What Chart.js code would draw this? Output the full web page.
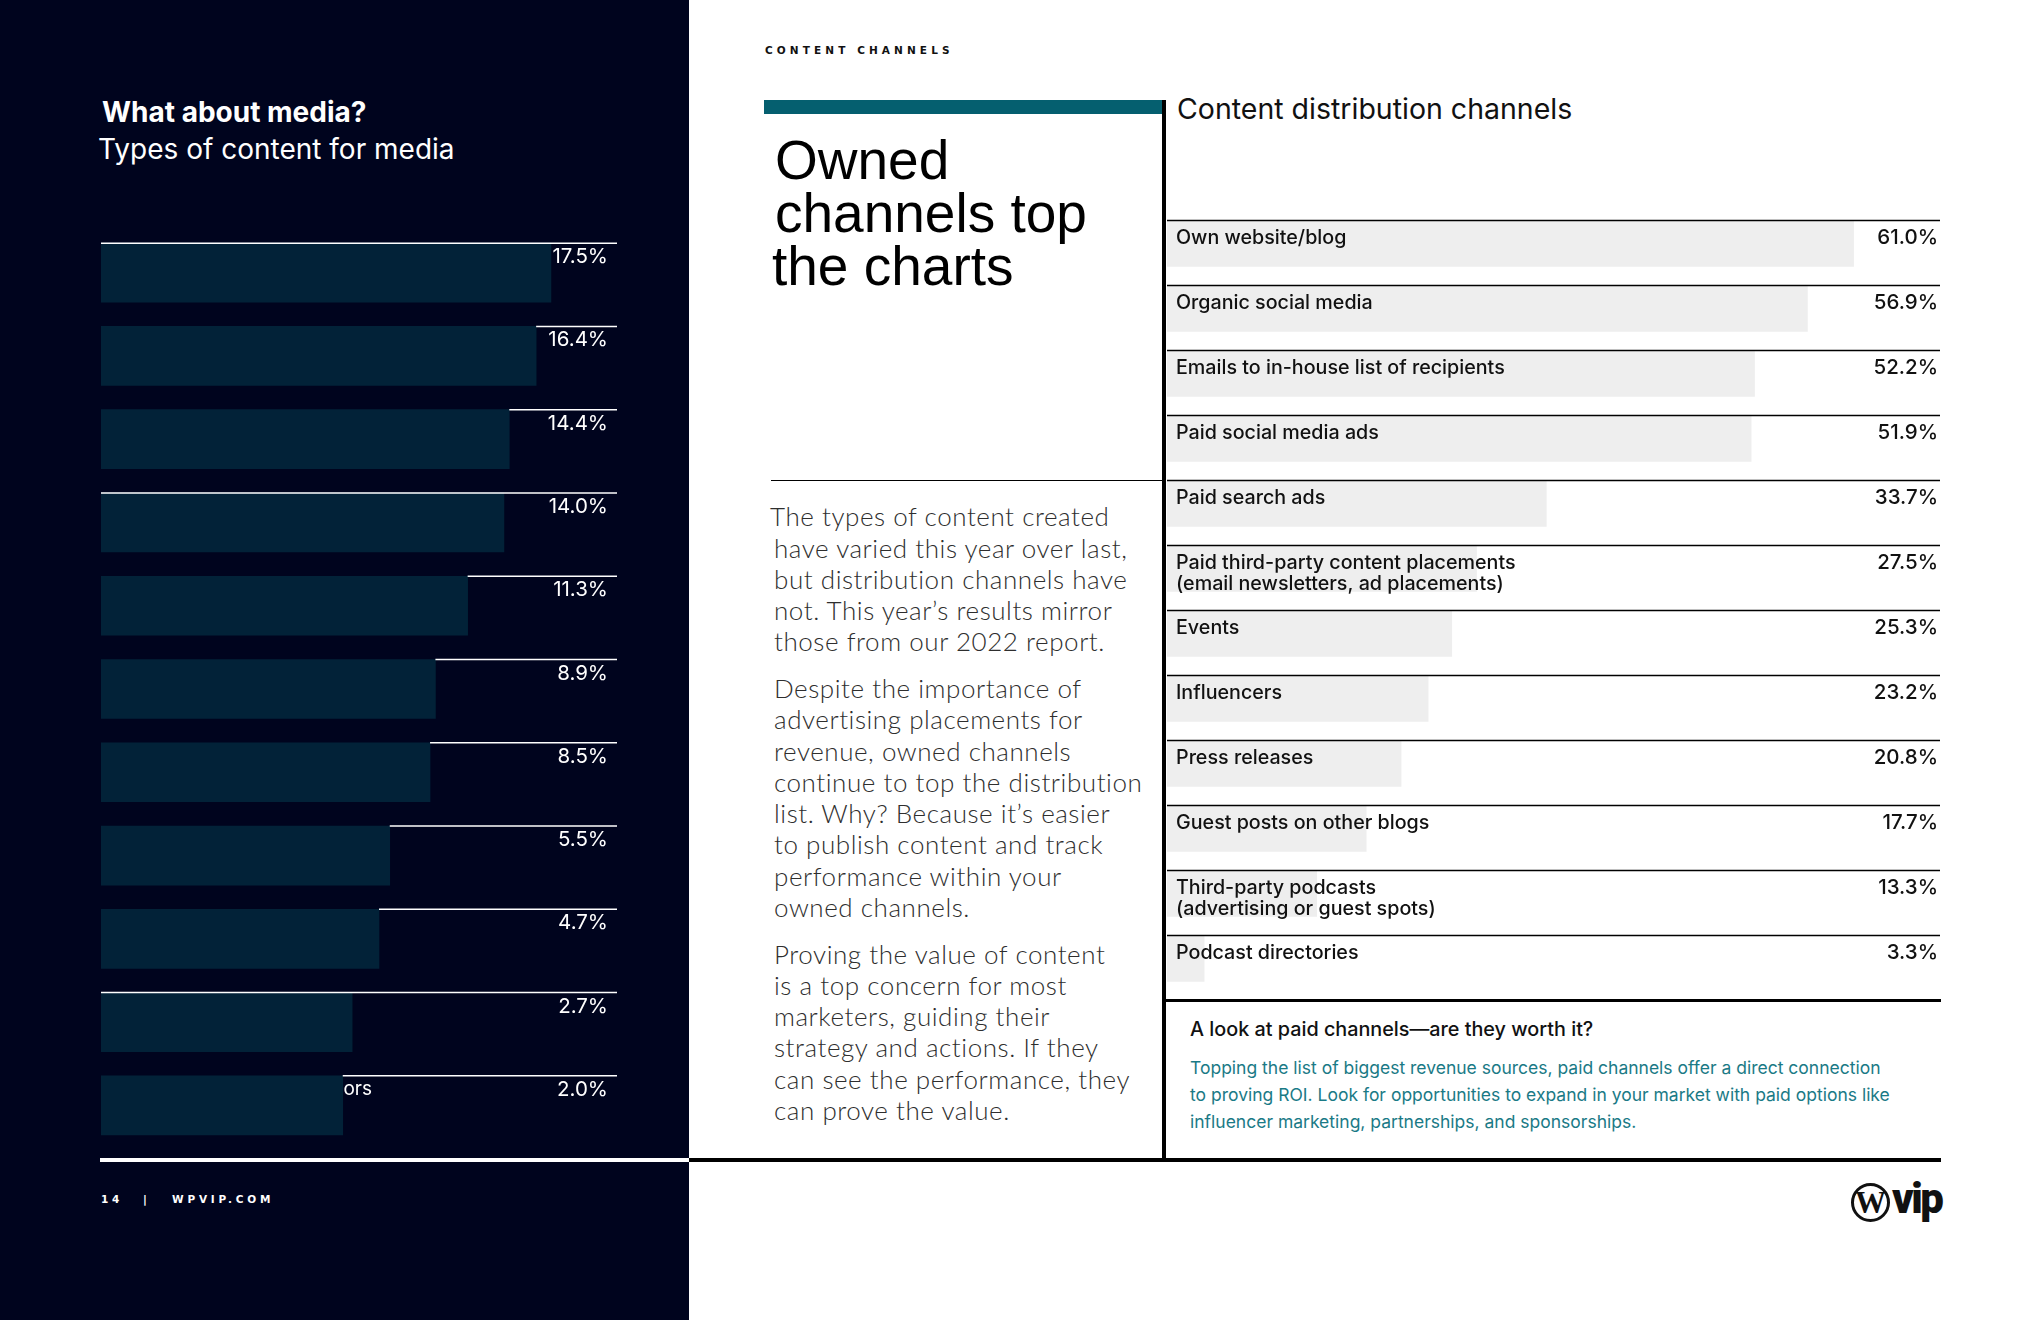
<!DOCTYPE html>
<html lang="en">
<head>
<meta charset="UTF-8">
<title>Content channels</title>
<script src="https://cdn.jsdelivr.net/npm/chart.js"></script>
<style>
	html, body { margin: 0; padding: 0; }
	body { width: 2040px; height: 1320px; position: relative; background: #fff; overflow: hidden; }
	.abs { position: absolute; white-space: nowrap; }
	#panel { left: 0; top: 0; width: 689px; height: 1320px; background: #00041e; }
	.para { font-family: Lato, sans-serif; font-weight: 300; font-size: 26px; line-height: 31.25px; letter-spacing: 0.55px; color: #2e2e2e; left: 774px; }
	.teal { font-family: Inter, sans-serif; font-size: 17.5px; line-height: 27px; color: #1a7a86; left: 1190px; top: 1054.1px; }
</style>
</head>
<body>
	<div id="panel" class="abs"></div>

	<div class="abs" style="left:102px; top:97.8px; font:700 28px/28px Inter; color:#fff;">What about media?</div>
	<div class="abs" style="left:98px; top:134.8px; font:400 28px/28px Inter; color:#fff;">Types of content for media</div>

	<canvas id="mediaChart" class="abs" width="516" height="916" style="left:101px; top:231px;"></canvas>

	<div class="abs" style="left:100px; top:1158px; width:589px; height:4px; background:#fff;"></div>
	<div class="abs" style="left:689px; top:1158px; width:1252px; height:4px; background:#000;"></div>

	<div class="abs" style="left:101px; top:1193.8px; font:700 10.5px/10.5px 'DejaVu Sans'; letter-spacing:3.8px; color:#fff;">14</div>
	<div class="abs" style="left:143px; top:1193.8px; font:700 10.5px/10.5px 'DejaVu Sans'; color:#fff;">|</div>
	<div class="abs" style="left:172px; top:1193.8px; font:700 10.5px/10.5px 'DejaVu Sans'; letter-spacing:3.8px; color:#fff;">WPVIP.COM</div>

	<div class="abs" style="left:765px; top:44.5px; font:700 10.5px/10.5px 'DejaVu Sans'; letter-spacing:4.1px; color:#111;">CONTENT CHANNELS</div>

	<div class="abs" style="left:764px; top:100px; width:398px; height:14px; background:#055f6f;"></div>
	<div class="abs" style="left:1162px; top:100px; width:4px; height:1062px; background:#000;"></div>

	<div class="abs" style="left:775px; top:133.8px; font:400 55px/53px 'Liberation Sans'; color:#000;">Owned<br>channels top<br><span style="margin-left:-3px">the charts</span></div>
	<div class="abs" style="left:771px; top:479.5px; width:391px; height:1.5px; background:#000;"></div>

	<div class="abs para" style="top:501.3px;"><span style="margin-left:-4px">The types of content created</span><br>have varied this year over last,<br>but distribution channels have<br>not. This year’s results mirror<br>those from our 2022 report.</div>
	<div class="abs para" style="top:673px;">Despite the importance of<br>advertising placements for<br>revenue, owned channels<br>continue to top the distribution<br>list. Why? Because it’s easier<br>to publish content and track<br>performance within your<br>owned channels.</div>
	<div class="abs para" style="top:938.7px;">Proving the value of content<br>is a top concern for most<br>marketers, guiding their<br>strategy and actions. If they<br>can see the performance, they<br>can prove the value.</div>

	<div class="abs" style="left:1177px; top:95.4px; font:400 28.5px/28.5px Inter; color:#111;">Content distribution channels</div>

	<canvas id="channelChart" class="abs" width="773" height="780" style="left:1167px; top:211px;"></canvas>

	<div class="abs" style="left:1166px; top:998.5px; width:775px; height:3px; background:#000;"></div>

	<div class="abs" style="left:1190px; top:1020.2px; font:500 19.8px/19.8px Inter; color:#111;">A look at paid channels—are they worth it?</div>
	<div class="abs teal">Topping the list of biggest revenue sources, paid channels offer a direct connection<br>to proving ROI. Look for opportunities to expand in your market with paid options like<br>influencer marketing, partnerships, and sponsorships.</div>

	<div class="abs" style="left:1851px; top:1183px; width:33px; height:33px; border:3.5px solid #111; border-radius:50%; text-align:center; font:700 31px/34px 'Liberation Serif'; color:#111;">W</div>
	<div class="abs" style="left:1892px; top:1178.4px; font:900 42px/42px Roboto; letter-spacing:-2.5px; color:#111;">vip</div>

	<script>
		// left panel: types of content for media
		const mediaTypes = [
			"Articles", "Video", "Newsletters", "Podcasts", "Social posts", "Infographics",
			"Webinars", "eBooks", "Case studies", "Live events", "Content from our contributors"
		];
		const mediaShares = [17.5, 16.4, 14.4, 14.0, 11.3, 8.9, 8.5, 5.5, 4.7, 2.7, 2.0];
		const mediaFullLines = [0, 3, 9];

		// right panel: content distribution channels
		const channels = [
			["Own website/blog"],
			["Organic social media"],
			["Emails to in-house list of recipients"],
			["Paid social media ads"],
			["Paid search ads"],
			["Paid third-party content placements", "(email newsletters, ad placements)"],
			["Events"],
			["Influencers"],
			["Press releases"],
			["Guest posts on other blogs"],
			["Third-party podcasts", "(advertising or guest spots)"],
			["Podcast directories"]
		];
		const channelShares = [61.0, 56.9, 52.2, 51.9, 33.7, 27.5, 25.3, 23.2, 20.8, 17.7, 13.3, 3.3];

		Chart.defaults.animation = false;
		Chart.defaults.plugins.legend.display = false;
		Chart.defaults.plugins.tooltip.enabled = false;

		const pct = v => v.toFixed(1) + "%";

		const mediaRows = {
			id: "mediaRows",
			// labels sit under the bars, only what sticks out shows
			beforeDatasetsDraw(chart) {
				const { ctx, chartArea } = chart;
				const bars = chart.getDatasetMeta(0).data;
				ctx.save();
				ctx.font = "400 19px Inter";
				ctx.fillStyle = "#ffffff";
				bars.forEach((bar, i) => {
					const top = bar.y - bar.height / 2;
					ctx.fillText(chart.data.labels[i], chartArea.left + 3, top + 19);
				});
				ctx.restore();
			},
			afterDatasetsDraw(chart) {
				const { ctx, chartArea } = chart;
				const bars = chart.getDatasetMeta(0).data;
				ctx.save();
				ctx.strokeStyle = "#ffffff";
				ctx.lineWidth = 1.5;
				ctx.font = "400 20.5px Inter";
				ctx.fillStyle = "#ffffff";
				ctx.textAlign = "right";
				bars.forEach((bar, i) => {
					const top = bar.y - bar.height / 2;
					const from = mediaFullLines.includes(i) ? chartArea.left : bar.x;
					ctx.beginPath();
					ctx.moveTo(from, top);
					ctx.lineTo(chartArea.right, top);
					ctx.stroke();
					ctx.fillText(pct(chart.data.datasets[0].data[i]), chartArea.right - 9, top + 20);
				});
				ctx.restore();
			}
		};

		new Chart(document.getElementById("mediaChart"), {
			type: "bar",
			data: {
				labels: mediaTypes,
				datasets: [{
					data: mediaShares,
					base: -16,
					backgroundColor: "#022238",
					barThickness: 59
				}]
			},
			options: {
				indexAxis: "y",
				responsive: false,
				devicePixelRatio: 1,
				layout: { padding: 0 },
				scales: {
					x: { display: false, min: -16, max: 22.42 },
					y: { display: false }
				}
			},
			plugins: [mediaRows]
		});

		const channelRows = {
			id: "channelRows",
			afterDatasetsDraw(chart) {
				const { ctx, chartArea } = chart;
				const bars = chart.getDatasetMeta(0).data;
				ctx.save();
				ctx.strokeStyle = "#000000";
				ctx.lineWidth = 1.5;
				ctx.fillStyle = "#111111";
				bars.forEach((bar, i) => {
					const top = bar.y - bar.height / 2;
					ctx.beginPath();
					ctx.moveTo(chartArea.left, top);
					ctx.lineTo(chartArea.right, top);
					ctx.stroke();
					ctx.font = "500 19.7px Inter";
					ctx.textAlign = "left";
					chart.data.labels[i].forEach((line, k) => {
						ctx.fillText(line, chartArea.left + 9, top + 23 + k * 21);
					});
					ctx.font = "500 20.5px Inter";
					ctx.textAlign = "right";
					ctx.fillText(pct(chart.data.datasets[0].data[i]), chartArea.right - 2, top + 23);
				});
				ctx.restore();
			}
		};

		new Chart(document.getElementById("channelChart"), {
			type: "bar",
			data: {
				labels: channels,
				datasets: [{
					data: channelShares,
					backgroundColor: "#eeeeee",
					barThickness: 46
				}]
			},
			options: {
				indexAxis: "y",
				responsive: false,
				devicePixelRatio: 1,
				layout: { padding: 0 },
				scales: {
					x: { display: false, min: 0, max: 68.68 },
					y: { display: false }
				}
			},
			plugins: [channelRows]
		});
	</script>
</body>
</html>
